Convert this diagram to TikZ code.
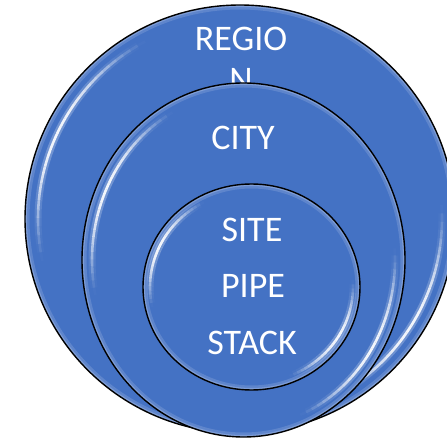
\documentclass[tikz,border=0pt]{standalone}
\usepackage{fontspec}
\setmainfont{Carlito}
\usetikzlibrary{shapes.geometric}
\definecolor{ringblue}{HTML}{4472C4}
% cx cy rx ry offset start end
\newcommand\glossarc[7]{%
  \pgfmathsetmacro\grx{#3-#5}%
  \pgfmathsetmacro\gry{#4-#5}%
  \foreach \gi in {0,...,29}{%
    \pgfmathsetmacro\ga{#6+(#7-#6)*\gi/30}%
    \pgfmathsetmacro\gb{#6+(#7-#6)*(\gi+1)/30}%
    \pgfmathsetmacro\gf{sin(180*(\gi+0.5)/30)^1.3}%
    \draw[white,line width=7,opacity={0.25*\gf}]
      ({#1+\grx*cos(\ga)},{#2+\gry*sin(\ga)}) arc[start angle=\ga,end angle=\gb,x radius=\grx,y radius=\gry];
    \draw[white,line width=2.6,opacity={0.92*\gf}]
      ({#1+\grx*cos(\ga)},{#2+\gry*sin(\ga)}) arc[start angle=\ga,end angle=\gb,x radius=\grx,y radius=\gry];
  }%
}
% cx cy rx ry offset
\newcommand\ringshape[5]{%
  \fill[ringblue] (#1,#2) ellipse[x radius=#3,y radius=#4];
  \begin{scope}
    \clip (#1,#2) ellipse[x radius=#3,y radius=#4];
    \draw[white,opacity=0.14,line width=9] (#1,#2) ellipse[x radius=#3,y radius=#4];
    \draw[white,opacity=0.2,line width=4] (#1,#2) ellipse[x radius=#3,y radius=#4];
    \glossarc{#1}{#2}{#3}{#4}{#5}{118}{192}
    \glossarc{#1}{#2}{#3}{#4}{#5}{292}{364}
  \end{scope}
  \draw[black,line width=1.4] (#1,#2) ellipse[x radius=#3,y radius=#4];
}
\tikzset{label text/.style={text=white,inner sep=0pt,font=\fontsize{36}{41}\selectfont}}
\begin{document}
\begin{tikzpicture}[x=1pt,y=1pt]
\useasboundingbox (0,0) rectangle (447,439);
\clip (0,0) rectangle (447,439);
\ringshape{240}{220}{215}{214}{13}
\node[label text,align=center,anchor=north] (region) at (241,412.5) {REGIO\\N};
\ringshape{243.5}{179}{161.5}{177}{10}
\node[label text] (city) at (243,301.5) {CITY};
\ringshape{251.5}{152}{108.5}{103}{7}
\node[label text] (site) at (252,209.5) {SITE};
\node[label text] (pipe) at (253,153) {PIPE};
\node[label text] (stack) at (252,96) {STACK};
\end{tikzpicture}
\end{document}
